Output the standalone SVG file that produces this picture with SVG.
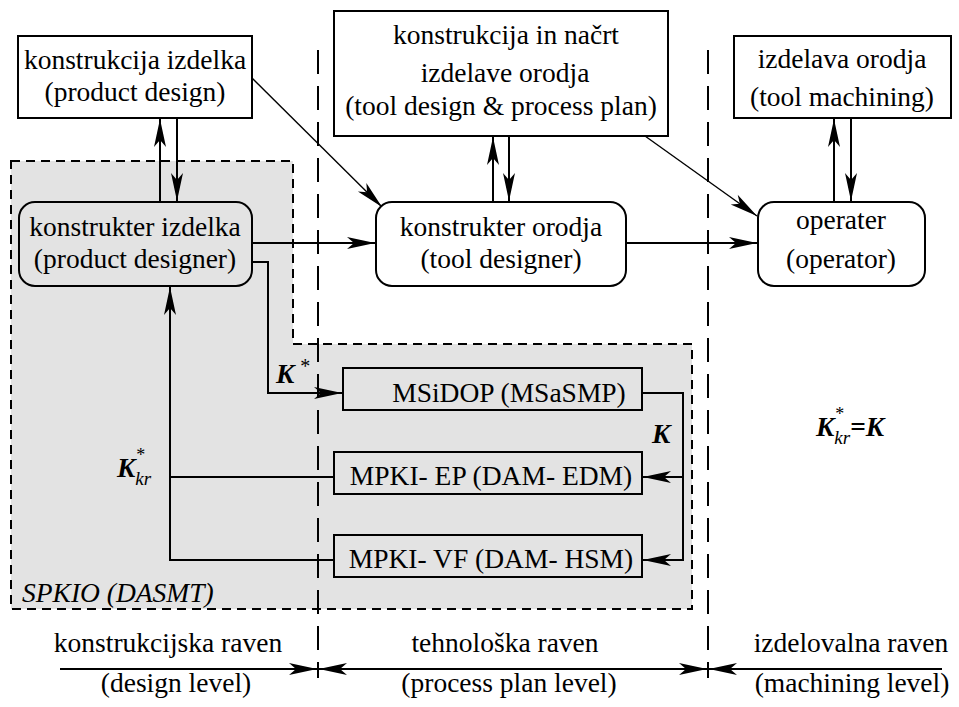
<svg xmlns="http://www.w3.org/2000/svg" width="959" height="707" viewBox="0 0 959 707">
<style>
text{font-family:"Liberation Serif","DejaVu Serif",serif;font-size:27.5px;fill:#000}
.c{text-anchor:middle}
.box{fill:#fff;stroke:#000;stroke-width:2}
.gbox{fill:#e3e3e3;stroke:#000;stroke-width:2}
.ln{fill:none;stroke:#000;stroke-width:2}
.thin{fill:none;stroke:#000;stroke-width:1.4}
.div{fill:none;stroke:#000;stroke-width:2;stroke-dasharray:24 12}
.bi{font-weight:bold;font-style:italic}
.it{font-style:italic}
</style>
<defs>
<marker id="ah" markerUnits="userSpaceOnUse" markerWidth="32" markerHeight="14" viewBox="-30 -7 32 14" refX="0" refY="0" orient="auto">
<path d="M0,0 L-28,-6 L-21,0 L-28,6 Z" fill="#000"/>
</marker>
</defs>
<rect width="959" height="707" fill="#fff"/>
<g font-family="Liberation Serif, DejaVu Serif, serif">
<g id="region-spkio">
<path d="M11,161 H293 V344 H692 V609 H11 Z" fill="#e3e3e3" stroke="#000" stroke-width="2" stroke-dasharray="9 6"/>
<text x="22" y="602" class="it">SPKIO (DASMT)</text>
</g>
<g id="dividers">
<line x1="318" y1="50" x2="318" y2="678" class="div"/>
<line x1="708" y1="50" x2="708" y2="678" class="div"/>
</g>
<g id="connectors">
<line x1="160" y1="202" x2="160" y2="119" class="ln" marker-end="url(#ah)"/>
<line x1="177" y1="118" x2="177" y2="201" class="ln" marker-end="url(#ah)"/>
<line x1="493" y1="202" x2="493" y2="137" class="ln" marker-end="url(#ah)"/>
<line x1="509" y1="136" x2="509" y2="201" class="ln" marker-end="url(#ah)"/>
<line x1="834" y1="202" x2="834" y2="119" class="ln" marker-end="url(#ah)"/>
<line x1="851" y1="118" x2="851" y2="201" class="ln" marker-end="url(#ah)"/>
<line x1="252" y1="78" x2="382" y2="207" class="thin" marker-end="url(#ah)"/>
<line x1="645" y1="136" x2="757" y2="216" class="thin" marker-end="url(#ah)"/>
<line x1="252" y1="243" x2="375" y2="243" class="ln" marker-end="url(#ah)"/>
<line x1="583" y1="243" x2="757" y2="243" class="ln" marker-end="url(#ah)"/>
<polyline points="252,262 268,262 268,393 342,393" class="ln" marker-end="url(#ah)"/>
<line x1="334" y1="477" x2="170" y2="477" class="ln"/>
<polyline points="334,560 170,560 170,287" class="ln" marker-end="url(#ah)"/>
<polyline points="642,393 683,393 683,560 643,560" class="ln" marker-end="url(#ah)"/>
<line x1="683" y1="477" x2="643" y2="477" class="ln" marker-end="url(#ah)"/>
<line x1="60" y1="669" x2="317" y2="669" class="ln" marker-end="url(#ah)"/>
<line x1="500" y1="669" x2="319" y2="669" class="ln" marker-end="url(#ah)"/>
<line x1="500" y1="669" x2="707" y2="669" class="ln" marker-end="url(#ah)"/>
<line x1="942" y1="669" x2="709" y2="669" class="ln" marker-end="url(#ah)"/>
</g>
<g id="product-design">
<rect x="18" y="36" width="234" height="82" class="box"/>
<text x="135" y="69" class="c">konstrukcija izdelka</text>
<text x="135" y="101" class="c">(product design)</text>
</g>
<g id="tool-design">
<rect x="334" y="11" width="334" height="125" class="box"/>
<text x="506" y="44" class="c">konstrukcija in načrt</text>
<text x="505" y="82" class="c">izdelave orodja</text>
<text x="501" y="115" class="c">(tool design &amp; process plan)</text>
</g>
<g id="tool-machining">
<rect x="734" y="36" width="217" height="82" class="box"/>
<text x="842" y="68" class="c">izdelava orodja</text>
<text x="842" y="106" class="c">(tool machining)</text>
</g>
<g id="product-designer">
<rect x="19" y="202" width="233" height="84" rx="16" class="gbox"/>
<text x="135" y="236" class="c">konstrukter izdelka</text>
<text x="135" y="268" class="c">(product designer)</text>
</g>
<g id="tool-designer">
<rect x="376" y="202" width="250" height="84" rx="16" class="box"/>
<text x="501" y="236" class="c">konstrukter orodja</text>
<text x="501" y="268" class="c">(tool designer)</text>
</g>
<g id="operator">
<rect x="758" y="202" width="167" height="84" rx="16" class="box"/>
<text x="841" y="229" class="c">operater</text>
<text x="841" y="268" class="c">(operator)</text>
</g>
<g id="msidop">
<rect x="343" y="368" width="299" height="42" class="gbox"/>
<text x="509" y="402" class="c">MSiDOP (MSaSMP)</text>
</g>
<g id="mpki-ep">
<rect x="334" y="452" width="308" height="42" class="gbox"/>
<text x="491" y="485" class="c">MPKI- EP (DAM- EDM)</text>
</g>
<g id="mpki-vf">
<rect x="334" y="535" width="308" height="42" class="gbox"/>
<text x="491" y="568" class="c">MPKI- VF (DAM- HSM)</text>
</g>
<g id="labels">
<text x="276" y="383"><tspan class="bi">K</tspan><tspan dx="6" dy="-10" font-size="20">*</tspan></text>
<text x="117" y="477"><tspan class="bi">K</tspan><tspan dy="8" font-size="19" class="it">kr</tspan><tspan dx="-15" dy="-24" font-size="18">*</tspan></text>
<text x="652" y="443" class="bi">K</text>
<text x="816" y="436"><tspan class="bi">K</tspan><tspan dy="8" font-size="19" class="it">kr</tspan><tspan dx="-15" dy="-24" font-size="18">*</tspan><tspan dx="6" dy="16" font-weight="bold">=</tspan><tspan class="bi">K</tspan></text>
<text x="168" y="652" class="c">konstrukcijska raven</text>
<text x="176" y="692" class="c">(design level)</text>
<text x="505" y="652" class="c">tehnološka raven</text>
<text x="509" y="692" class="c">(process plan level)</text>
<text x="851" y="652" class="c">izdelovalna raven</text>
<text x="852" y="692" class="c">(machining level)</text>
</g>
</g>
</svg>
